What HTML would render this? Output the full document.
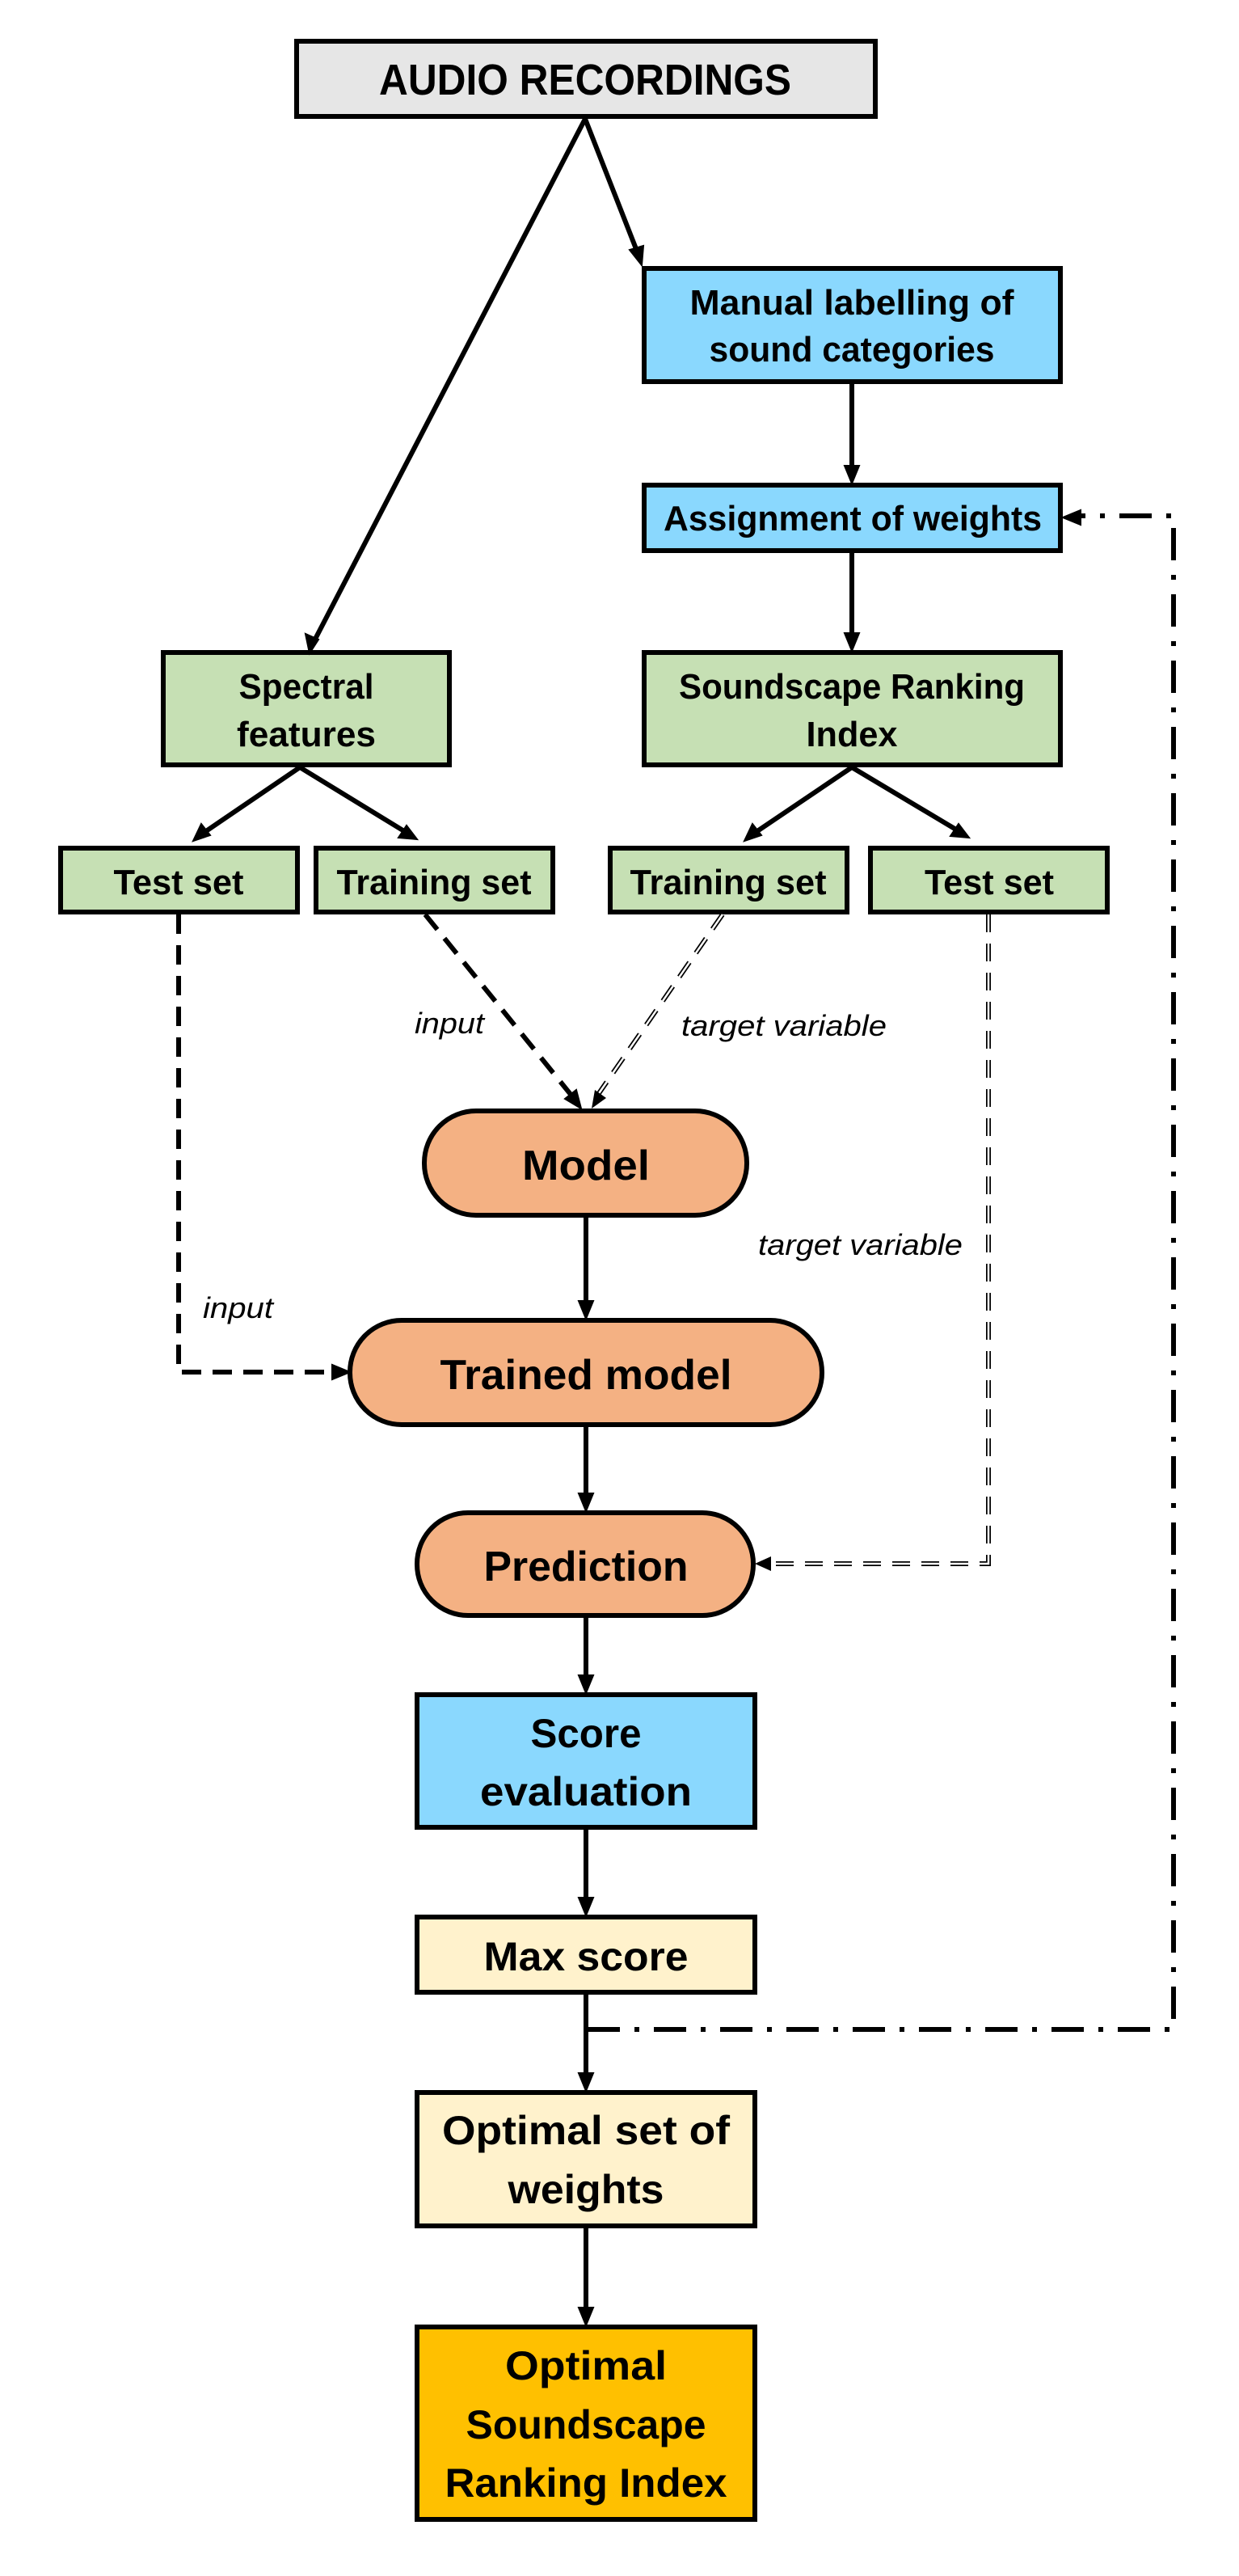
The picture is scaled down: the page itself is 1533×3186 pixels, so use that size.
<!DOCTYPE html>
<html><head><meta charset="utf-8"><style>html,body{margin:0;padding:0;background:#fff}svg{display:block}</style></head>
<body>
<svg width="1533" height="3186" viewBox="0 0 1533 3186" xmlns="http://www.w3.org/2000/svg" font-family="'Liberation Sans', sans-serif">
<defs>
<marker id="ah" markerWidth="8" markerHeight="8" refX="7" refY="4" orient="auto" markerUnits="userSpaceOnUse" viewBox="0 0 8 8"><path d="M0,0 L8,4 L0,8 z" fill="#000"/></marker>
</defs>
<g stroke="#000" stroke-width="6">
<rect x="367" y="51" width="716" height="93" fill="#e6e6e6"/>
<rect x="797" y="332" width="515" height="140" fill="#8ad8fe"/>
<rect x="797" y="600" width="515" height="81" fill="#8ad8fe"/>
<rect x="202" y="807" width="354" height="139" fill="#c6e0b4"/>
<rect x="797" y="807" width="515" height="139" fill="#c6e0b4"/>
<rect x="75" y="1049" width="293" height="79" fill="#c6e0b4"/>
<rect x="391" y="1049" width="293" height="79" fill="#c6e0b4"/>
<rect x="755" y="1049" width="293" height="79" fill="#c6e0b4"/>
<rect x="1077" y="1049" width="293" height="79" fill="#c6e0b4"/>
<rect x="525" y="1374" width="399" height="129" rx="64" fill="#f4b183"/>
<rect x="433" y="1633" width="584" height="129" rx="64" fill="#f4b183"/>
<rect x="516" y="1871" width="416" height="127" rx="63" fill="#f4b183"/>
<rect x="516" y="2096" width="418" height="164" fill="#8ad8fe"/>
<rect x="516" y="2371" width="418" height="93" fill="#fff2cc"/>
<rect x="516" y="2588" width="418" height="165" fill="#fff2cc"/>
<rect x="516" y="2878" width="418" height="238" fill="#ffc000"/>
</g>
<g stroke="#000" stroke-width="6" fill="none">
<!-- solid arrows -->
<line x1="724" y1="147" x2="385" y2="800"/>
<path d="M383,808 l-5,-24 l16,7 z" fill="#000" stroke-width="2"/>
<line x1="724" y1="147" x2="791" y2="318"/>
<path d="M794,328 l-15,-19 l17,-5 z" fill="#000" stroke-width="2"/>
<line x1="1054" y1="475" x2="1054" y2="580"/>
<path d="M1054,598 l-9,-22 l18,0 z" fill="#000" stroke-width="2"/>
<line x1="1054" y1="684" x2="1054" y2="785"/>
<path d="M1054,805 l-9,-22 l18,0 z" fill="#000" stroke-width="2"/>
<line x1="371" y1="949" x2="249" y2="1032"/>
<path d="M239,1040 l10,-21 l11,14 z" fill="#000" stroke-width="2"/>
<line x1="371" y1="949" x2="505" y2="1031"/>
<path d="M516,1038 l-23,-2 l10,-15 z" fill="#000" stroke-width="2"/>
<line x1="1054" y1="949" x2="931" y2="1032"/>
<path d="M921,1040 l10,-21 l11,14 z" fill="#000" stroke-width="2"/>
<line x1="1054" y1="949" x2="1188" y2="1029"/>
<path d="M1199,1036 l-23,-2 l10,-15 z" fill="#000" stroke-width="2"/>
<line x1="725" y1="1506" x2="725" y2="1612"/>
<path d="M725,1631 l-9,-22 l18,0 z" fill="#000" stroke-width="2"/>
<line x1="725" y1="1765" x2="725" y2="1850"/>
<path d="M725,1869 l-9,-22 l18,0 z" fill="#000" stroke-width="2"/>
<line x1="725" y1="2001" x2="725" y2="2075"/>
<path d="M725,2094 l-9,-22 l18,0 z" fill="#000" stroke-width="2"/>
<line x1="725" y1="2263" x2="725" y2="2350"/>
<path d="M725,2369 l-9,-22 l18,0 z" fill="#000" stroke-width="2"/>
<line x1="725" y1="2467" x2="725" y2="2567"/>
<path d="M725,2586 l-9,-22 l18,0 z" fill="#000" stroke-width="2"/>
<line x1="725" y1="2756" x2="725" y2="2857"/>
<path d="M725,2876 l-9,-22 l18,0 z" fill="#000" stroke-width="2"/>
<!-- dashed input lines -->
<line x1="526" y1="1131" x2="708" y2="1356" stroke-dasharray="24 14"/>
<path d="M719,1371 l-20,-12 l14,-11 z" fill="#000" stroke-width="2"/>
<polyline points="221,1131 221,1697 412,1697" stroke-dasharray="24 14"/>
<path d="M433,1697 l-22,-9 l0,18 z" fill="#000" stroke-width="2"/>
<!-- dash-dot feedback -->
<polyline points="727,2510 1452,2510 1452,638 1330,638" stroke-dasharray="40 18 6 18"/>
<path d="M1315,640 l22,-9 l0,18 z" fill="#000" stroke-width="2"/>
</g>
<!-- double dashed lines -->
<g fill="none">
<line x1="894" y1="1131" x2="737" y2="1358" stroke="#000" stroke-width="6" stroke-dasharray="22 14"/>
<line x1="894" y1="1131" x2="737" y2="1358" stroke="#fff" stroke-width="2.5" stroke-dasharray="22 14"/>
<polyline points="1223,1131 1223,1934 950,1934" stroke="#000" stroke-width="6" stroke-dasharray="22 14"/>
<polyline points="1223,1131 1223,1934 950,1934" stroke="#fff" stroke-width="2.5" stroke-dasharray="22 14"/>
</g>
<path d="M732,1371 l4,-23 l14,10 z" fill="#000"/>
<path d="M934,1934 l20,-9 l0,18 z" fill="#000"/>
<!-- text -->
<g font-weight="bold" fill="#000" text-anchor="middle" lengthAdjust="spacingAndGlyphs">
<text x="724" y="117" font-size="54" textLength="510" lengthAdjust="spacingAndGlyphs">AUDIO RECORDINGS</text>
<text x="1054" y="389" font-size="44" textLength="401" lengthAdjust="spacingAndGlyphs">Manual labelling of</text>
<text x="1054" y="447" font-size="44" textLength="353" lengthAdjust="spacingAndGlyphs">sound categories</text>
<text x="1055" y="656" font-size="44" textLength="468" lengthAdjust="spacingAndGlyphs">Assignment of weights</text>
<text x="379" y="864" font-size="44" textLength="167" lengthAdjust="spacingAndGlyphs">Spectral</text>
<text x="379" y="923" font-size="44" textLength="172" lengthAdjust="spacingAndGlyphs">features</text>
<text x="1054" y="864" font-size="44" textLength="428" lengthAdjust="spacingAndGlyphs">Soundscape Ranking</text>
<text x="1054" y="923" font-size="44" textLength="113" lengthAdjust="spacingAndGlyphs">Index</text>
<text x="221" y="1106" font-size="44" textLength="161" lengthAdjust="spacingAndGlyphs">Test set</text>
<text x="537" y="1106" font-size="44" textLength="241" lengthAdjust="spacingAndGlyphs">Training set</text>
<text x="901" y="1106" font-size="44" textLength="243" lengthAdjust="spacingAndGlyphs">Training set</text>
<text x="1224" y="1106" font-size="44" textLength="160" lengthAdjust="spacingAndGlyphs">Test set</text>
<text x="725" y="1459" font-size="52" textLength="158" lengthAdjust="spacingAndGlyphs">Model</text>
<text x="725" y="1718" font-size="52" textLength="361" lengthAdjust="spacingAndGlyphs">Trained model</text>
<text x="725" y="1955" font-size="52" textLength="253" lengthAdjust="spacingAndGlyphs">Prediction</text>
<text x="725" y="2161" font-size="50" textLength="137" lengthAdjust="spacingAndGlyphs">Score</text>
<text x="725" y="2233" font-size="50" textLength="262" lengthAdjust="spacingAndGlyphs">evaluation</text>
<text x="725" y="2437" font-size="50" textLength="253" lengthAdjust="spacingAndGlyphs">Max score</text>
<text x="725" y="2652" font-size="50" textLength="356" lengthAdjust="spacingAndGlyphs">Optimal set of</text>
<text x="725" y="2725" font-size="50" textLength="193" lengthAdjust="spacingAndGlyphs">weights</text>
<text x="725" y="2943" font-size="50" textLength="200" lengthAdjust="spacingAndGlyphs">Optimal</text>
<text x="725" y="3016" font-size="50" textLength="297" lengthAdjust="spacingAndGlyphs">Soundscape</text>
<text x="725" y="3088" font-size="50" textLength="349" lengthAdjust="spacingAndGlyphs">Ranking Index</text>
</g>
<g font-style="italic" fill="#000" font-size="36">
<text x="513" y="1278" textLength="86" lengthAdjust="spacingAndGlyphs">input</text>
<text x="843" y="1281" textLength="254" lengthAdjust="spacingAndGlyphs">target variable</text>
<text x="938" y="1552" textLength="253" lengthAdjust="spacingAndGlyphs">target variable</text>
<text x="251" y="1630" textLength="87" lengthAdjust="spacingAndGlyphs">input</text>
</g>
</svg>
</body></html>
